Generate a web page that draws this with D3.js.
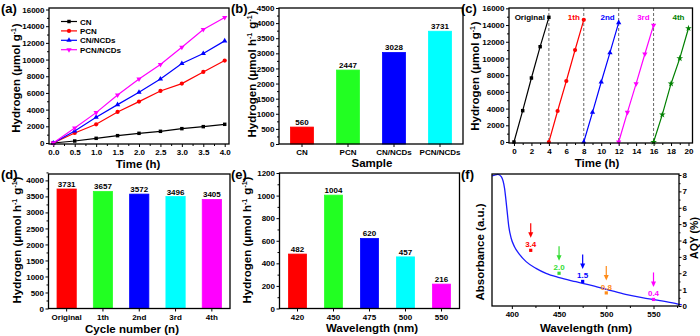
<!DOCTYPE html>
<html>
<head>
<meta charset="utf-8">
<script src="https://cdn.jsdelivr.net/npm/d3@7"></script>
<style>
  body { margin: 0; background: #fff; }
  text { font-family: "Liberation Sans", Arial, sans-serif; font-weight: bold; fill: #000; }
</style>
</head>
<body>
<div id="chart"></div>
<script>
// (a) hydrogen evolved over time
var timeA = [0, 0.5, 1, 1.5, 2, 2.5, 3, 3.5, 4];
var cnH2 = [0, 240, 560, 880, 1160, 1400, 1720, 1960, 2240];
var pcnH2 = [0, 1200, 2240, 3720, 4960, 6240, 7120, 8520, 9880];
var cnNcdH2 = [0, 1440, 3080, 4600, 6080, 7680, 9520, 10720, 12240];
var pcnNcdH2 = [0, 1800, 3640, 5760, 7680, 9400, 11480, 13600, 15040];
var seriesNames = ["CN", "PCN", "CN/NCDs", "PCN/NCDs"];

// (b) rates per sample
var samples = ["CN", "PCN", "CN/NCDs", "PCN/NCDs"];
var sampleRates = [560, 2447, 3028, 3731];

// (c) cycling runs, 4 h each
var cycles = ["Original", "1th", "2nd", "3rd", "4th"];
var cycleStart = [0, 4, 8, 12, 16];
var cycleHours = [0, 1, 2, 3, 4];
var cycleH2 = [
  [0, 3750, 7660, 11410, 14924],
  [0, 3710, 7300, 11010, 14628],
  [0, 3550, 7180, 10690, 14288],
  [0, 3550, 6980, 10530, 13984],
  [0, 3270, 6980, 10010, 13620]
];

// (d) rate per cycle
var cycleRates = [3731, 3657, 3572, 3496, 3405];

// (e) rate per wavelength
var waveLabels = ["420", "450", "475", "500", "550"];
var waveRates = [482, 1004, 620, 457, 216];

// (f) absorbance spectrum and AQY
var absWl = [379, 385.3, 388.8, 392.3, 394.7, 396.8, 399.3, 402.8, 408.1, 415.1, 425.6, 436.2, 450.2, 467.8, 485.3, 502.8, 520.4, 537.9, 555.5, 573, 580];
var absVal = [0.985, 0.997, 0.980, 0.891, 0.740, 0.601, 0.513, 0.449, 0.391, 0.336, 0.285, 0.247, 0.215, 0.184, 0.154, 0.121, 0.088, 0.063, 0.043, 0.020, 0.008];
var aqyWl = [420, 450, 475, 500, 550];
var aqy = [3.4, 2.0, 1.5, 0.8, 0.4];

var RED = "#ff0000", GREEN = "#22ff22", BLUE = "#0000ff", CYAN = "#00ffff", MAGENTA = "#ff00ff";

var svg = d3.select("#chart").append("svg")
  .attr("width", 700).attr("height", 336);

function frame(box) {
  svg.append("rect")
    .attr("x", box.l).attr("y", box.t)
    .attr("width", box.r - box.l).attr("height", box.b - box.t)
    .attr("fill", "none").attr("stroke", "#000").attr("stroke-width", 1.3);
}

function styleAxis(sel) {
  sel.select(".domain").remove();
  sel.selectAll(".tick line").attr("stroke", "#000").attr("stroke-width", 1);
  sel.selectAll("text").style("font-size", "8px").style("font-family", "'Liberation Sans', Arial, sans-serif").style("font-weight", "bold");
}

function axes(box, x, y, o) {
  // major + minor ticks, outward
  var gx = svg.append("g").attr("transform", "translate(0," + box.b + ")");
  var xa = d3.axisBottom(x).tickSize(3).tickPadding(2.5).tickSizeOuter(0);
  if (o.xTicks) xa.tickValues(o.xTicks);
  if (o.xFormat) xa.tickFormat(o.xFormat);
  gx.call(xa).call(styleAxis);
  if (o.xMinor) {
    svg.append("g").attr("transform", "translate(0," + box.b + ")")
      .call(d3.axisBottom(x).tickValues(o.xMinor).tickSize(2).tickFormat("")).call(styleAxis);
  }
  if (y) {
    var gy = svg.append("g").attr("transform", "translate(" + box.l + ",0)");
    var ya = d3.axisLeft(y).tickSize(3).tickPadding(1.5).tickValues(o.yTicks).tickFormat(d3.format("d"));
    gy.call(ya).call(styleAxis);
    svg.append("g").attr("transform", "translate(" + box.l + ",0)")
      .call(d3.axisLeft(y).tickValues(o.yMinor).tickSize(2).tickFormat("")).call(styleAxis);
  }
}

function xTitle(txt, cx, base) {
  svg.append("text").attr("x", cx).attr("y", base)
    .attr("text-anchor", "middle").style("font-size", "11.5px").text(txt);
}

// rotated title; parts: [text, isSuperscript]
function yTitle(parts, bx, cy) {
  var t = svg.append("text")
    .attr("transform", "translate(" + bx + "," + cy + ") rotate(-90)")
    .attr("text-anchor", "middle").style("font-size", "11.5px");
  parts.forEach(function(p) {
    if (p[1]) {
      t.append("tspan").attr("dy", -4.5).style("font-size", "7px").text(p[0]);
      t.append("tspan").attr("dy", 4.5).text("\u200a");
    } else {
      t.append("tspan").text(p[0]);
    }
  });
  return t;
}

function panelTag(txt, x, y) {
  svg.append("text").attr("x", x).attr("y", y).style("font-size", "13px").text(txt);
}

var titleG = [["Hydrogen (\u03bcmol g", 0], ["-1", 1], [")", 0]];
var titleHG = [["Hydrogen (\u03bcmol h", 0], ["-1", 1], [" g", 0], ["-1", 1], [")", 0]];

function marker(type, color, size) {
  var sym = {
    square: d3.symbolSquare, circle: d3.symbolCircle,
    up: d3.symbolTriangle, down: d3.symbolTriangle, star: d3.symbolStar
  }[type];
  return { path: d3.symbol().type(sym).size(size || 14)(), rot: type === "down" ? 180 : 0, color: color };
}

function range(a, b, s) { return d3.range(a, b + s / 2, s); }

// ---------- (a)
(function() {
  var box = { l: 49, r: 229, t: 8, b: 144 };
  var x = d3.scaleLinear().domain([-0.1, 4.1]).range([box.l, box.r]);
  var y = d3.scaleLinear().domain([-120, 16180]).range([box.b, box.t]);
  axes(box, x, y, {
    xTicks: range(0, 4, 0.5), xMinor: range(0.25, 3.75, 0.5), xFormat: d3.format(".1f"),
    yTicks: range(0, 16000, 2000), yMinor: range(1000, 15000, 2000)
  });
  var sets = [cnH2, pcnH2, cnNcdH2, pcnNcdH2];
  var marks = [marker("square", "#000", 12), marker("circle", RED), marker("up", BLUE, 12), marker("down", MAGENTA, 12)];
  var line = d3.line().x(function(d, i) { return x(timeA[i]); }).y(function(d) { return y(d); });
  sets.forEach(function(s, k) {
    svg.append("path").datum(s).attr("d", line)
      .attr("fill", "none").attr("stroke", marks[k].color).attr("stroke-width", 1.2);
    svg.append("g").selectAll("path").data(s).enter().append("path")
      .attr("d", marks[k].path).attr("fill", marks[k].color)
      .attr("transform", function(d, i) { return "translate(" + x(timeA[i]) + "," + y(d) + ") rotate(" + marks[k].rot + ")"; });
  });
  // legend
  seriesNames.forEach(function(n, k) {
    var ly = 21.5 + k * 9.4;
    svg.append("line").attr("x1", 61).attr("x2", 77).attr("y1", ly).attr("y2", ly)
      .attr("stroke", marks[k].color).attr("stroke-width", 1.2);
    svg.append("path").attr("d", marks[k].path).attr("fill", marks[k].color)
      .attr("transform", "translate(69," + ly + ") rotate(" + marks[k].rot + ")");
    svg.append("text").attr("x", 80).attr("y", ly + 3).style("font-size", "8px").text(n);
  });
  frame(box);
  xTitle("Time (h)", 138, 168);
  yTitle(titleG, 20, 78);
  panelTag("(a)", 1, 13);
})();

// bar panel helper
function bars(box, cats, vals, colors, ymax, yTicks, yMinor, pad) {
  var x = d3.scaleBand().domain(cats).range([box.l, box.r]).paddingInner(pad).paddingOuter(pad / 2);
  var y = d3.scaleLinear().domain([0, ymax]).range([box.b, box.t]);
  svg.append("g").selectAll("rect").data(vals).enter().append("rect")
    .attr("x", function(d, i) { return x(cats[i]); })
    .attr("y", function(d) { return y(d); })
    .attr("width", x.bandwidth())
    .attr("height", function(d) { return box.b - y(d); })
    .attr("fill", function(d, i) { return colors[i]; })
    .attr("stroke", function(d, i) { return d3.color(colors[i]).brighter(0.6); })
    .attr("stroke-width", 0.8);
  svg.append("g").selectAll("text").data(vals).enter().append("text")
    .attr("x", function(d, i) { return x(cats[i]) + x.bandwidth() / 2; })
    .attr("y", function(d) { return y(d) - 2; })
    .attr("text-anchor", "middle").style("font-size", "8px").text(function(d) { return d; });
  axes(box, x, y, { yTicks: yTicks, yMinor: yMinor });
  frame(box);
}

// ---------- (b)
(function() {
  var box = { l: 279, r: 463, t: 8, b: 144 };
  bars(box, samples, sampleRates, [RED, GREEN, BLUE, CYAN], 4500, range(0, 4500, 500), range(250, 4250, 500), 0.5);
  xTitle("Sample", 372, 167);
  yTitle(titleHG, 256, 74);
  panelTag("(b)", 231, 13);
})();

// ---------- (c)
(function() {
  var box = { l: 509, r: 692.5, t: 8, b: 143 };
  var x = d3.scaleLinear().domain([-0.57, 20.46]).range([box.l, box.r]);
  var y = d3.scaleLinear().domain([-120, 16040]).range([box.b, box.t]);
  axes(box, x, y, {
    xTicks: range(0, 20, 2), xMinor: range(1, 19, 2),
    yTicks: range(0, 16000, 2000), yMinor: range(1000, 15000, 2000)
  });
  [4, 8, 12, 16].forEach(function(h) {
    svg.append("line").attr("x1", x(h)).attr("x2", x(h)).attr("y1", box.t).attr("y2", box.b)
      .attr("stroke", "#666").attr("stroke-width", 1).attr("stroke-dasharray", "3,2");
  });
  var marks = [marker("square", "#000", 12), marker("circle", RED), marker("up", BLUE, 12), marker("down", MAGENTA, 12), marker("star", "#008000", 14)];
  cycleH2.forEach(function(s, k) {
    var line = d3.line().x(function(d, i) { return x(cycleStart[k] + cycleHours[i]); }).y(function(d) { return y(d); });
    svg.append("path").datum(s).attr("d", line)
      .attr("fill", "none").attr("stroke", marks[k].color).attr("stroke-width", 1.2);
    svg.append("g").selectAll("path").data(s).enter().append("path")
      .attr("d", marks[k].path).attr("fill", marks[k].color)
      .attr("transform", function(d, i) { return "translate(" + x(cycleStart[k] + cycleHours[i]) + "," + y(d) + ") rotate(" + marks[k].rot + ")"; });
    svg.append("text").attr("x", x(cycleStart[k] + 4) - 4).attr("y", 20)
      .attr("text-anchor", "end").style("font-size", "8px").style("fill", marks[k].color).text(cycles[k]);
  });
  frame(box);
  xTitle("Time (h)", 597, 167);
  yTitle(titleG, 479, 76);
  panelTag("(c)", 461, 13);
})();

// ---------- (d)
(function() {
  var box = { l: 48.5, r: 230, t: 174, b: 308.5 };
  bars(box, cycles, cycleRates, [RED, GREEN, BLUE, CYAN, MAGENTA], 4200, range(0, 4000, 500), range(250, 4250, 500), 0.47);
  xTitle("Cycle number (n)", 132, 333);
  yTitle(titleHG, 21, 240);
  panelTag("(d)", 1, 179);
})();

// ---------- (e)
(function() {
  var box = { l: 279.5, r: 459.5, t: 173, b: 308.5 };
  bars(box, waveLabels, waveRates, [RED, GREEN, BLUE, CYAN, MAGENTA], 1200, range(0, 1200, 200), range(100, 1100, 200), 0.5);
  xTitle("Wavelength (nm)", 372, 332);
  yTitle(titleHG, 251, 240);
  panelTag("(e)", 231, 179);
})();

// ---------- (f)
(function() {
  var box = { l: 492, r: 679, t: 174, b: 306 };
  var x = d3.scaleLinear().domain([379, 577]).range([box.l, box.r]);
  var yAbs = d3.scaleLinear().domain([0, 1]).range([box.b, box.t]);
  var yQ = d3.scaleLinear().domain([0, 8]).range([box.b, box.t + 1]);
  axes(box, x, null, { xTicks: range(400, 550, 50), xMinor: range(425, 575, 50) });
  var gr = svg.append("g").attr("transform", "translate(" + box.r + ",0)");
  gr.call(d3.axisRight(yQ).tickValues(range(0, 8, 1)).tickSize(2.5).tickPadding(1)).call(styleAxis);
  svg.append("g").attr("transform", "translate(" + box.r + ",0)")
    .call(d3.axisRight(yQ).tickValues(range(0.5, 7.5, 1)).tickSize(1.5).tickFormat("")).call(styleAxis);

  svg.append("path").datum(absVal)
    .attr("d", d3.line().curve(d3.curveMonotoneX)
      .x(function(d, i) { return x(absWl[i]); }).y(function(d) { return yAbs(d); }))
    .attr("fill", "none").attr("stroke", "#1a1aff").attr("stroke-width", 1.3);

  var qColors = [RED, "#33dd33", BLUE, "#ff8c1a", MAGENTA];
  aqy.forEach(function(v, k) {
    var px = x(aqyWl[k]), py = yQ(v), c = qColors[k];
    svg.append("rect").attr("x", px - 1.6).attr("y", py - 1.6).attr("width", 3.2).attr("height", 3.2).attr("fill", c);
    svg.append("text").attr("x", px).attr("y", py - 3).attr("text-anchor", "middle")
      .style("font-size", "8px").style("fill", c).text(v.toFixed(1));
    svg.append("line").attr("x1", px).attr("x2", px).attr("y1", py - 27).attr("y2", py - 17)
      .attr("stroke", c).attr("stroke-width", 1.2);
    svg.append("path").attr("d", d3.line()([[px - 2.5, py - 18], [px + 2.5, py - 18], [px, py - 12.5]]))
      .attr("fill", c);
  });
  frame(box);
  xTitle("Wavelength (nm)", 586, 332);
  yTitle([["Absorbance (a.u.)", 0]], 484, 252);
  yTitle([["AQY (%)", 0]], 697.5, 238).style("font-size", "10.5px");
  panelTag("(f)", 461, 179);
})();
</script>
</body>
</html>
